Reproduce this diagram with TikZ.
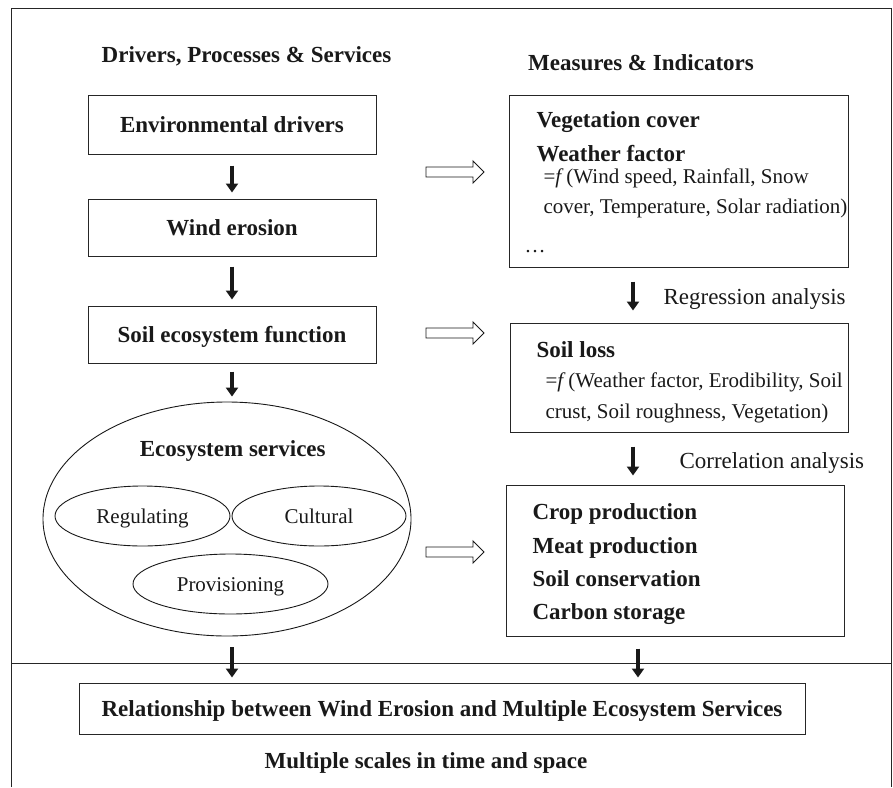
\documentclass[tikz,border=0pt]{standalone}
\usepackage{fontspec}
\setmainfont{Liberation Serif}
\usetikzlibrary{arrows.meta,shapes.geometric}
\begin{document}
\begin{tikzpicture}[x=1pt,y=-1pt,
  frame/.style={draw=black!85, line width=1pt},
  box/.style={draw=black!85, line width=1pt, inner sep=0pt, text height=15pt, text depth=0pt},
  oval/.style={ellipse, draw=black!90, line width=0.9pt, inner sep=0pt, text height=14pt, text depth=0pt},
  bl/.style={font=\fontsize{23}{27}\selectfont\bfseries, text=black!90},
  rg/.style={font=\fontsize{21}{25}\selectfont, text=black!90},
  rgl/.style={font=\fontsize{23}{27}\selectfont, text=black!90},
  darr/.style={draw=black!90, line width=4pt, -{Triangle[width=12pt,length=9pt]}},
  hollow/.style={draw=black!90, line width=0.9pt, fill=white, line join=miter}
]
\useasboundingbox (0,0) rectangle (893,787);
% outer frame (open at the bottom)
\draw[frame] (11,787) -- (11,8) -- (891,8) -- (891,787);
\coordinate (hl) at (11,663);
\coordinate (hr) at (891,663);
\draw[frame] (hl) -- (hr);

% titles
\node[bl, anchor=base] (tl) at (246.5,62) {Drivers, Processes \& Services};
\node[bl, anchor=base] (tr) at (641,70) {Measures \& Indicators};

% left column
\node[box, bl, minimum width=288pt, minimum height=59pt] (env) at (232,124.5) {Environmental drivers};
\node[box, bl, minimum width=288pt, minimum height=57pt] (wind) at (232,227.5) {Wind erosion};
\node[box, bl, minimum width=288pt, minimum height=57pt] (soil) at (232,334.5) {Soil ecosystem function};

\node[ellipse, draw=black!90, line width=0.9pt, minimum width=368pt, minimum height=234pt, inner sep=0pt] (es) at (227,519) {};
\node[bl, anchor=base] (est) at (232.7,456) {Ecosystem services};
\node[oval, rg, minimum width=175pt, minimum height=60pt] (reg) at (142.5,516) {Regulating};
\node[oval, rg, minimum width=174pt, minimum height=60pt] (cul) at (319,516) {Cultural};
\node[oval, rg, minimum width=195pt, minimum height=60pt] (pro) at (230.5,584) {Provisioning};

% right column boxes
\node[draw=black!85, line width=1pt, minimum width=339pt, minimum height=172pt, inner sep=0pt] (b1) at (678.5,181) {};
\node[draw=black!85, line width=1pt, minimum width=338pt, minimum height=109pt, inner sep=0pt] (b2) at (679,377.5) {};
\node[draw=black!85, line width=1pt, minimum width=338pt, minimum height=151pt, inner sep=0pt] (b3) at (675,560.5) {};

\node[bl, anchor=base west] (t11) at (533,127) {Vegetation cover};
\node[bl, anchor=base west] (t12) at (533,161) {Weather factor};
\node[rg, anchor=base west] (t13) at (540,183) {={\itshape f} (Wind speed, Rainfall, Snow};
\node[rg, anchor=base west] (t14) at (540,213) {cover, Temperature, Solar radiation)};
\node[rg, anchor=base west] (t15) at (521,252) {\ldots};

\node[bl, anchor=base west] (t21) at (533,357) {Soil loss};
\node[rg, anchor=base west] (t22) at (542,387) {={\itshape f} (Weather factor, Erodibility, Soil};
\node[rg, anchor=base west] (t23) at (542,418) {crust, Soil roughness, Vegetation)};

\node[bl, anchor=base west] (t31) at (529,519) {Crop production};
\node[bl, anchor=base west] (t32) at (529,553) {Meat production};
\node[bl, anchor=base west] (t33) at (529,586) {Soil conservation};
\node[bl, anchor=base west] (t34) at (529,619) {Carbon storage};

\node[rgl, anchor=base west] (lreg) at (660,304) {Regression analysis};
\node[rgl, anchor=base west] (lcor) at (676,468) {Correlation analysis};

% bottom
\node[box, bl, minimum width=726pt, minimum height=51pt] (rel) at (442,708.5) {Relationship between Wind Erosion and Multiple Ecosystem Services};
\node[bl, anchor=base] (ms) at (426,768) {Multiple scales in time and space};

% left black arrows
\draw[darr] ([yshift=-11pt]env.south) -- ([yshift=6pt]wind.north);
\draw[darr] ([yshift=-10pt]wind.south) -- ([yshift=6pt]soil.north);
\draw[darr] ([yshift=-8pt]soil.south) -- ([yshift=5pt]es.north -| soil.south);
\draw[darr] ([yshift=-11pt]es.south -| env.south) -- ([yshift=5pt]rel.north -| env.south);

% right black arrows
\coordinate (rx) at (633,0);
\coordinate (rx2) at (638,0);
\draw[darr] ([yshift=-14pt]b1.south -| rx) -- ([yshift=12pt]b2.north -| rx);
\draw[darr] ([yshift=-14pt]b2.south -| rx) -- ([yshift=9pt]b3.north -| rx);
\draw[darr] ([yshift=-12pt]b3.south -| rx2) -- ([yshift=5pt]rel.north -| rx2);

% hollow arrows
\coordinate (h1) at (426,172);
\coordinate (h2) at (426,333);
\coordinate (h3) at (426,552);
\foreach \h in {h1,h2,h3}{
  \draw[hollow] (\h) ++(0,-5) -- ++(47,0) -- ++(0,-6) -- ++(11,11) -- ++(-11,11) -- ++(0,-6) -- ++(-47,0) -- cycle;
}
\end{tikzpicture}
\end{document}
